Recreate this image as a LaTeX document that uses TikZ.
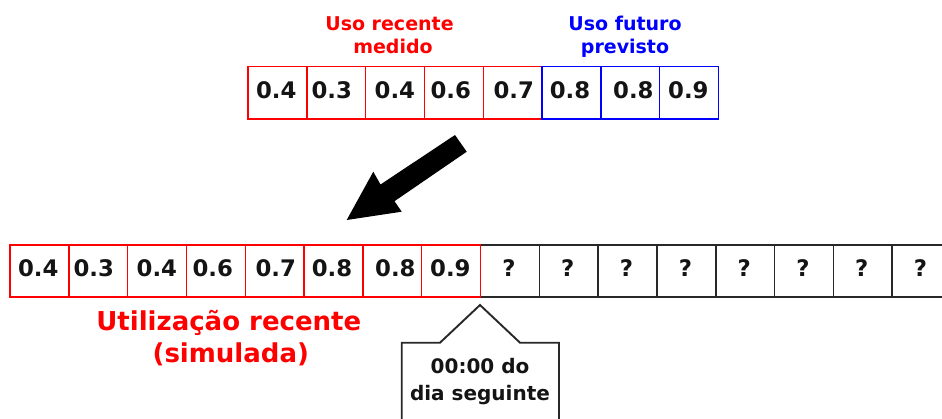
\documentclass[tikz,border=0pt]{standalone}
\usepackage{fontspec}
\setmainfont{DejaVu Sans}
\definecolor{myred}{RGB}{255,0,0}
\definecolor{myblue}{RGB}{0,0,255}
\definecolor{dk}{RGB}{40,40,40}
\begin{document}
\begin{tikzpicture}[x=1pt,y=-1pt,
 cell/.style={draw, line width=1.5pt, minimum width=58.8pt, minimum height=52.6pt, inner sep=0pt, anchor=north west},
 num/.style={font=\fontsize{22.8}{27}\selectfont\bfseries, inner sep=0pt, text=black!92},
 lab/.style={font=\fontsize{19}{22}\selectfont\bfseries, inner sep=0pt, anchor=base},
 biglab/.style={font=\fontsize{26}{30}\selectfont\bfseries, inner sep=0pt, anchor=base, text=myred},
 calltxt/.style={font=\fontsize{20}{24}\selectfont\bfseries, inner sep=0pt, anchor=base, text=black!92}]
\useasboundingbox (0,0) rectangle (942,418);
\clip (0,0) rectangle (942,418);

% top labels
\node[lab, text=myred] (lr1) at (389.5,30.7) {Uso recente};
\node[lab, text=myred] (lr2) at (393,53.3) {medido};
\node[lab, text=myblue] (lf1) at (625,30.7) {Uso futuro};
\node[lab, text=myblue] (lf2) at (625,53.3) {previsto};

% top array
\foreach \i in {0,...,4} \node[cell, draw=myred] (t\i) at ({247.3+58.8*\i},65.7) {};
\foreach \i in {5,...,7} \node[cell, draw=myblue] (t\i) at ({247.3+58.8*\i},65.7) {};
\foreach \i/\o/\v in {0/29/0.4, 1/25.7/0.3, 2/30/0.4, 3/27/0.6, 4/31.3/0.7, 5/28.7/0.8, 6/33.3/0.8, 7/29.5/0.9}
  \node[num] (tn\i) at ({247.3+58.8*\i+\o},90.5) {\v};

% arrow
\fill[black] (346.7,220) -- (373.3,171.7) -- (380.5,184.5) -- (455,135) -- (466.7,151.7) -- (394.5,201.2) -- (401.7,211.7) -- cycle;

% bottom array
\foreach \i in {8,...,15} \node[cell, draw=dk, line width=1.6pt, minimum height=52pt] (b\i) at ({9.3+58.8*\i},244) {};
\foreach \i in {0,...,7} \node[cell, draw=myred, minimum height=52pt] (b\i) at ({9.3+58.8*\i},244) {};
\foreach \i/\o/\v in {0/29/0.4, 1/25.7/0.3, 2/30/0.4, 3/27/0.6, 4/31.3/0.7, 5/28.7/0.8, 6/33.3/0.8, 7/29.5/0.9}
  \node[num] (bn\i) at ({9.3+58.8*\i+\o},268.3) {\v};
\foreach \i in {8,...,15}
  \node[num] (bq\i) at ({9.3+58.8*\i+29.3},268.3) {?};

% bottom label
\node[biglab] (ul1) at (228.8,330) {Utilização recente};
\node[biglab] (ul2) at (230.8,362) {(simulada)};

% callout
\coordinate (apex) at (480,305);
\draw[line width=1.9pt, draw=dk, fill=white, line join=miter]
  (401.7,430) -- (401.7,342.7) -- (440,342.7) -- (apex) -- (520,342.7) -- (559,342.7) -- (559,430);
\node[calltxt] (c1) at (480,373.3) {00:00 do};
\node[calltxt] (c2) at (480,400) {dia seguinte};
\end{tikzpicture}
\end{document}
